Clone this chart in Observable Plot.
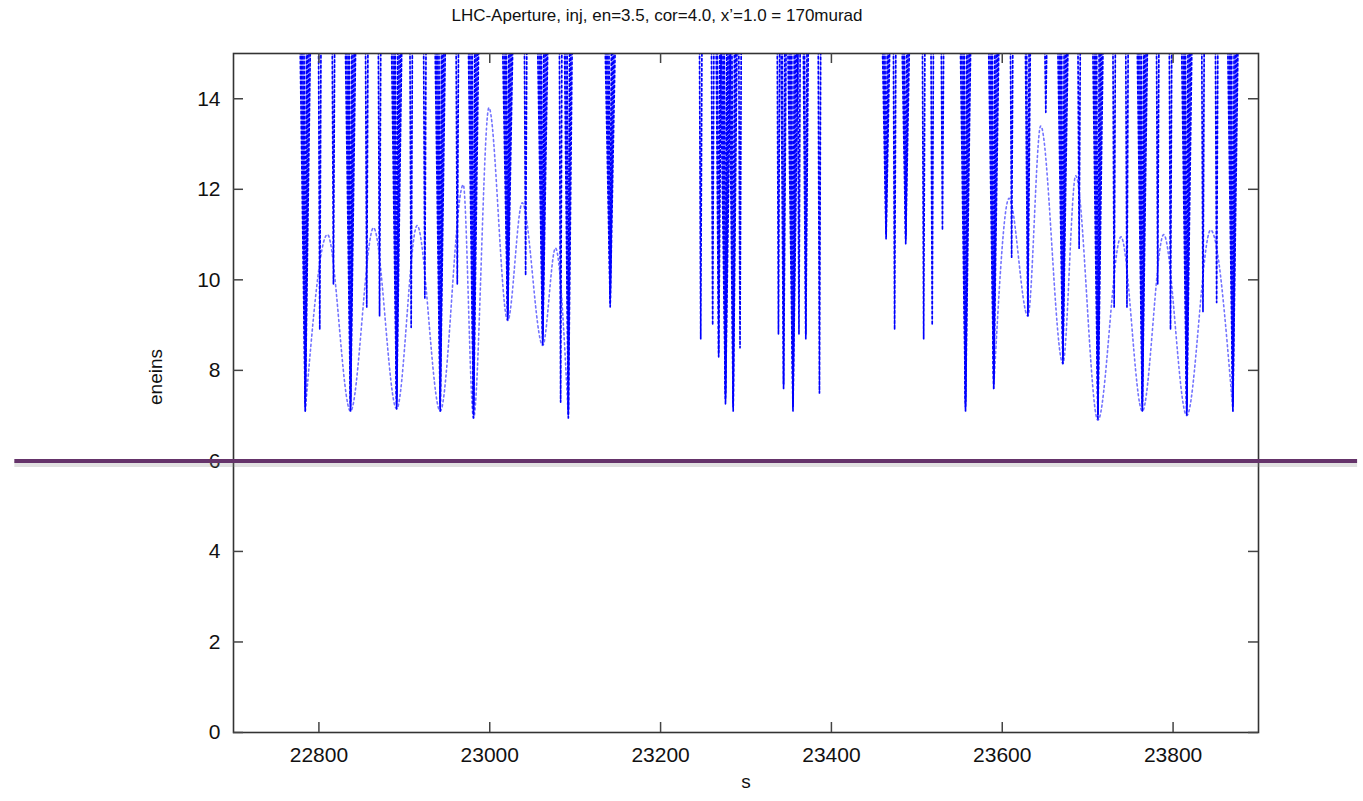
<!DOCTYPE html>
<html><head><meta charset="utf-8">
<script src="https://cdn.jsdelivr.net/npm/d3@7"></script>
<script src="https://cdn.jsdelivr.net/npm/@observablehq/plot@0.6"></script>
<style>
body{margin:0;background:#fff;}
#wrap{position:relative;width:1363px;height:801px;font-family:"Liberation Sans",Arial,sans-serif;}
#title{position:absolute;top:6px;left:0;width:1314px;text-align:center;font-size:17px;color:#111;}
#chart{position:absolute;top:0;left:0;}
</style></head><body>
<div id="wrap"><div id="chart"></div><div id="title">LHC-Aperture, inj, en=3.5, cor=4.0, x’=1.0 = 170murad</div></div>
<script>
// axis ticks
const xTicks = [22800, 23000, 23200, 23400, 23600, 23800];
const yTicks = [0, 2, 4, 6, 8, 10, 12, 14];

// aperture columns (s of the dip, lowest eneins, number of overlapping traces)
const colS   = [22784,22801,22817,22837,22856,22871,22891,22908,22924,22942,22962,22981,23021,23042,23062,23083,23092,
                23141,23247,23261,23268,23276,23285,23293,23338,23344,23355,23362,23370,23386,
                23464,23474,23487,23508,23518,23530,
                23557,23590,23611,23630,23651,23671,23690,23712,23731,23746,23764,23782,23797,23816,23835,23851,23870];
const colMin = [7.1,8.9,9.9,7.1,9.4,9.2,7.15,8.95,9.6,7.1,9.9,6.95,9.1,10.1,8.55,7.3,6.95,
                9.4,8.7,9.0,8.3,7.25,7.1,8.5,8.8,7.6,7.1,8.8,8.7,7.5,
                10.9,8.9,10.8,8.7,9.0,11.1,
                7.1,7.6,10.5,9.2,13.7,8.15,10.7,6.9,9.4,9.4,7.1,9.9,8.9,7.0,9.3,9.5,7.1];
const colN   = [4,1,1,4,1,1,4,1,1,4,1,4,4,1,4,1,3,
                4,1,1,2,4,3,1,1,2,4,1,2,1,
                3,1,3,1,1,1,
                4,4,1,2,1,4,1,4,1,1,4,1,1,4,1,1,4];

// faint arches between the dips
const archLeftS  = [22784,22810,22837,22864,22891,22915,22942,22969,22981,22999,23021,23038,23062,23077,23092];
const archLeftY  = [7.1,11.0,7.1,11.15,7.15,11.2,7.1,12.1,6.95,13.8,9.1,11.7,8.55,10.7,6.95];
const archRightS = [23590,23608,23630,23645,23671,23686,23712,23739,23764,23789,23816,23844,23870];
const archRightY = [7.6,11.8,9.2,13.4,8.15,12.3,6.9,10.95,7.1,11.0,7.0,11.1,7.1];

// annotation line
const limitY = [6];
const limitS1 = 22444, limitS2 = 24016;

const yTop = 15.6;
const traces = [];
colS.forEach((s, i) => {
  const n = colN[i];
  for (let k = 0; k < n; k++) {
    const hw = 1.5 + 1.6 * k;
    const lo = colMin[i] + 0.1 * (n - 1 - k);
    const id = `c${i}-${k}`;
    traces.push({id, s: s - hw, y: yTop}, {id, s, y: lo}, {id, s: s + hw, y: yTop});
  }
});
const arches = [
  ...archLeftS.map((s, i) => ({id: "L", s, y: archLeftY[i]})),
  ...archRightS.map((s, i) => ({id: "R", s, y: archRightY[i]}))
];

const W = 1363, H = 801, mL = 233, mR = 105, mT = 53, mB = 69;
const frameW = W - mL - mR, frameH = H - mT - mB, tickLen = 10;
const font = "Liberation Sans, Arial, sans-serif";
const fmt = d => String(d);
const tk = {stroke: "#444", strokeWidth: 1.5};
const chart = Plot.plot({
  width: W, height: H,
  marginLeft: mL, marginRight: mR, marginTop: mT, marginBottom: mB,
  style: {fontFamily: font, fontSize: "21px", color: "#111", background: "transparent"},
  x: {domain: [22700, 23900]},
  y: {domain: [0, 15]},
  marks: [
    Plot.line(arches, {x: "s", y: "y", z: "id", curve: "monotone-x", stroke: "#0000ff", strokeOpacity: 0.55, strokeWidth: 1.6, strokeDasharray: "2,3", clip: true}),
    Plot.line(traces, {x: "s", y: "y", z: "id", stroke: "#0000ff", strokeWidth: 1.7, strokeDasharray: "2.5,2.5", clip: true}),
    Plot.frame({stroke: "#333", strokeWidth: 1.6}),
    // inward tick marks on all four sides
    Plot.tickX(xTicks, {...tk, x: d => d, insetTop: frameH - tickLen}),
    Plot.tickX(xTicks, {...tk, x: d => d, insetBottom: frameH - tickLen}),
    Plot.tickY(yTicks, {...tk, y: d => d, insetRight: frameW - tickLen}),
    Plot.tickY(yTicks, {...tk, y: d => d, insetLeft: frameW - tickLen}),
    // tick labels
    Plot.axisX(xTicks, {anchor: "bottom", tickSize: 0, tickPadding: 15, tickFormat: fmt, label: null, fontSize: 21}),
    Plot.axisY(yTicks, {anchor: "left", tickSize: 0, tickPadding: 13, tickFormat: fmt, label: null, fontSize: 21}),
    Plot.text(["eneins"], {frameAnchor: "left", dx: -78, dy: 12, rotate: -90, fontSize: 19, fill: "#111"}),
    Plot.text(["s"], {frameAnchor: "bottom", dy: 55, fontSize: 19, fill: "#111"}),
    Plot.ruleY(limitY, {y: d => d, x1: limitS1, x2: limitS2, dy: 3, stroke: "#888", strokeOpacity: 0.25, strokeWidth: 6, clip: false}),
    Plot.ruleY(limitY, {y: d => d, x1: limitS1, x2: limitS2, stroke: "#65336a", strokeWidth: 4, clip: false})
  ]
});
document.getElementById("chart").appendChild(chart);
</script>
</body></html>
